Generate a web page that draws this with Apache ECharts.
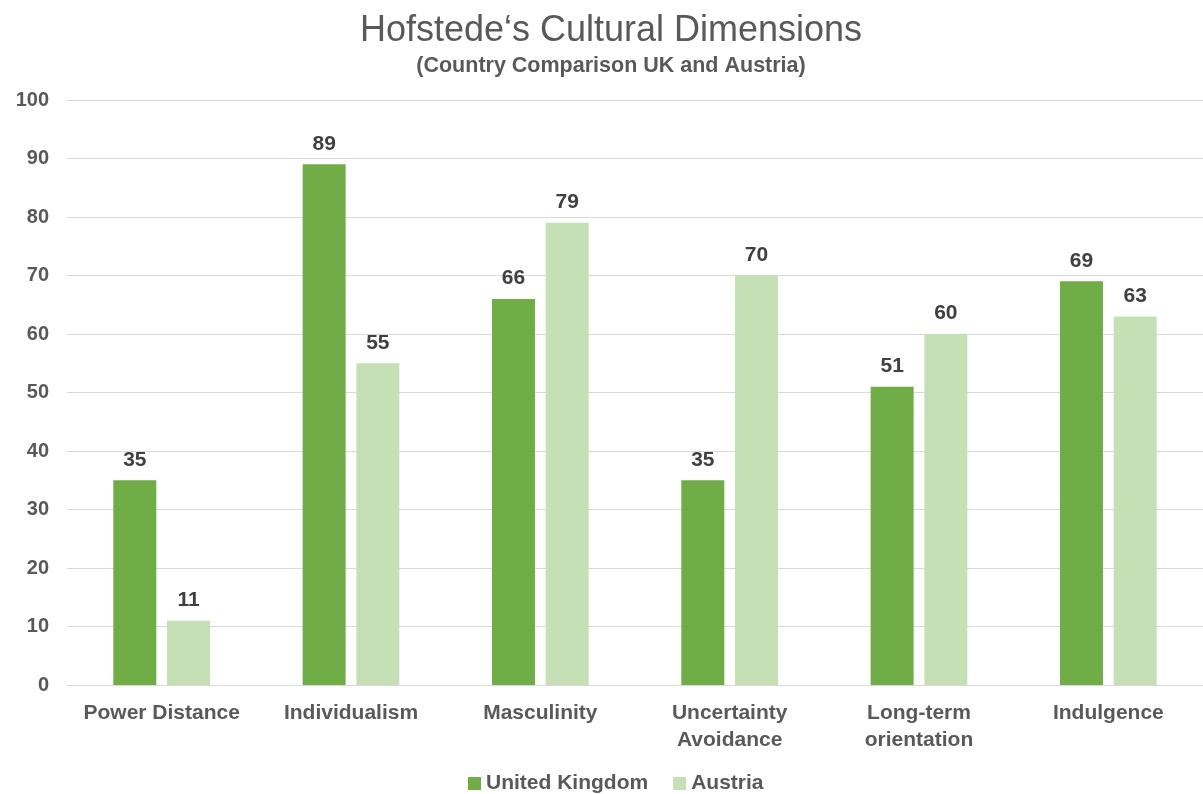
<!DOCTYPE html>
<html>
<head>
<meta charset="utf-8">
<script src="https://cdn.jsdelivr.net/npm/echarts@6/dist/echarts.min.js"></script>
<style>
  html, body { margin: 0; padding: 0; background: #fff; }
  #chart { width: 1203px; height: 794px; }
</style>
</head>
<body>
<div id="chart"></div>
<script>
// Hofstede dimension scores for the two countries
const categories = ['Power Distance', 'Individualism', 'Masculinity', 'Uncertainty\nAvoidance', 'Long-term\norientation', 'Indulgence'];
const ukScores = [35, 89, 66, 35, 51, 69];
const austriaScores = [11, 55, 79, 70, 60, 63];
const yTicks = { min: 0, max: 100, interval: 10 };

const font = 'Liberation Sans, Arial, sans-serif';

const chart = echarts.init(document.getElementById('chart'));

const valueLabel = {
  show: true,
  position: 'top',
  distance: 10,
  fontFamily: font,
  fontWeight: 'bold',
  fontSize: 21,
  color: '#404040'
};

chart.setOption({
  animation: false,
  title: {
    text: 'Hofstede\u2018s Cultural Dimensions',
    subtext: '(Country Comparison UK and Austria)',
    left: 606,
    textAlign: 'center',
    top: 8,
    itemGap: 6,
    textStyle: { fontFamily: font, fontWeight: 'normal', fontSize: 36, color: '#595959' },
    subtextStyle: { fontFamily: font, fontWeight: 'bold', fontSize: 21.5, color: '#595959' }
  },
  legend: {
    bottom: -5,
    left: 463,
    itemWidth: 13,
    itemHeight: 13,
    itemGap: 25,
    icon: 'rect',
    textStyle: { fontFamily: font, fontWeight: 'bold', fontSize: 21, color: '#595959' },
    data: ['United Kingdom', 'Austria']
  },
  grid: { left: 67, right: 0, top: 100, bottom: 109 },
  xAxis: {
    type: 'category',
    data: categories,
    axisTick: { show: false },
    axisLine: { show: true, lineStyle: { color: '#D9D9D9' } },
    axisLabel: {
      interval: 0,
      fontFamily: font,
      fontWeight: 'bold',
      fontSize: 21,
      color: '#595959',
      margin: 15,
      lineHeight: 27
    }
  },
  yAxis: {
    type: 'value',
    min: yTicks.min,
    max: yTicks.max,
    interval: yTicks.interval,
    axisLine: { show: false },
    axisTick: { show: false },
    splitLine: { lineStyle: { color: '#D9D9D9' } },
    axisLabel: {
      fontFamily: font,
      fontWeight: 'bold',
      fontSize: 20,
      color: '#595959',
      margin: 18
    }
  },
  series: [
    {
      name: 'United Kingdom',
      type: 'bar',
      data: ukScores,
      barWidth: '22.7%',
      barGap: '25%',
      itemStyle: { color: '#70AD47' },
      label: valueLabel
    },
    {
      name: 'Austria',
      type: 'bar',
      data: austriaScores,
      barWidth: '22.7%',
      itemStyle: { color: '#C5E0B4' },
      label: valueLabel
    }
  ]
});
</script>
</body>
</html>
